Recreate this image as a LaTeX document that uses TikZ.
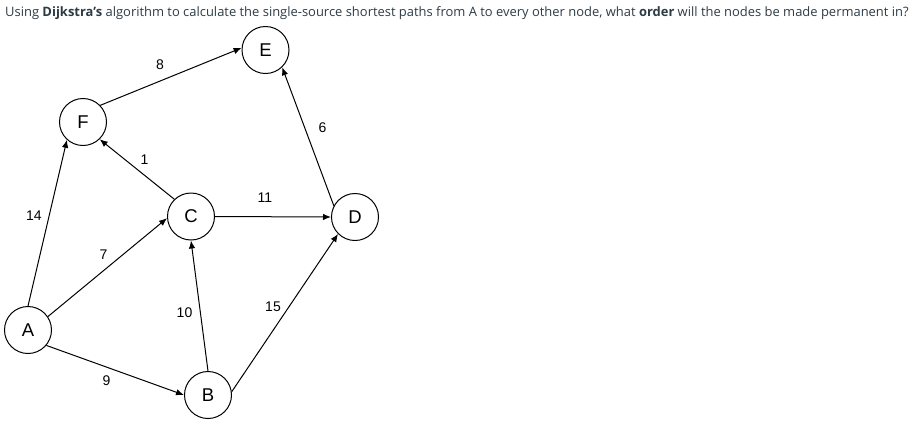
\documentclass[tikz,border=0pt]{standalone}
\usepackage{fontspec}
\setmainfont{Liberation Sans}
\newfontfamily\questionfont{Open Sans}
\usetikzlibrary{arrows.meta}
\definecolor{questiontext}{HTML}{2D3B45}
\begin{document}
\begin{tikzpicture}[x=1pt,y=-1pt]

    \tikzset{
      vertex/.style={
        draw,
        circle,
        line width=1pt,
        inner sep=0pt,
        minimum size=47pt,
        font=\fontsize{18.5}{21}\selectfont,
      },
      weight/.style={
        inner sep=0pt,
        font=\fontsize{14}{16}\selectfont,
      },
      edge/.style={
        color ={black},
        line width=1pt,
        -{Latex[length=8pt,width=6.5pt]},
      },
    }

    \useasboundingbox (0,0) rectangle (913,424);

	\node[anchor=base west,inner sep=0pt,text=questiontext,font=\questionfont\fontsize{12.95}{15}\selectfont] (question) at (5,16.5) {Using \textbf{Dijkstra’s} algorithm to calculate the single-source shortest paths from A to every other node, what \textbf{order} will the nodes be made permanent in?};

	\node[vertex] (E) at (265.5,50) {E};
	\node[vertex] (F) at (83,122) {F};
	\node[vertex] (C) at (191,216.5) {C};
	\node[vertex] (D) at (355,217) {D};
	\node[vertex] (A) at (28,330) {A};
	\node[vertex] (B) at (208,395) {B};

	\draw[edge] (A.north) -- (F.-132);
	\draw[edge] (A.34) -- (C.184);
	\draw[edge] (A.-40) -- (B.west);
	\draw[edge] (F.44) -- (E.175);
	\draw[edge] (C.134) -- (F.-46);
	\draw[edge] (C.east) -- (D.west);
	\draw[edge] (B.north) -- (C.south);
	\draw[edge] (B.8) -- (D.-135);
	\draw[edge] (D.152) -- (E.-46);

	\node[weight] (wAF) at (34,216) {14};
	\node[weight] (wAC) at (103.5,254.5) {7};
	\node[weight] (wAB) at (106.5,381) {9};
	\node[weight] (wFE) at (160,65) {8};
	\node[weight] (wCF) at (144.5,159.5) {1};
	\node[weight] (wCD) at (265,198) {11};
	\node[weight] (wBC) at (184.5,312.5) {10};
	\node[weight] (wBD) at (273,306.5) {15};
	\node[weight] (wDE) at (322.5,127.5) {6};

\end{tikzpicture}
\end{document}
